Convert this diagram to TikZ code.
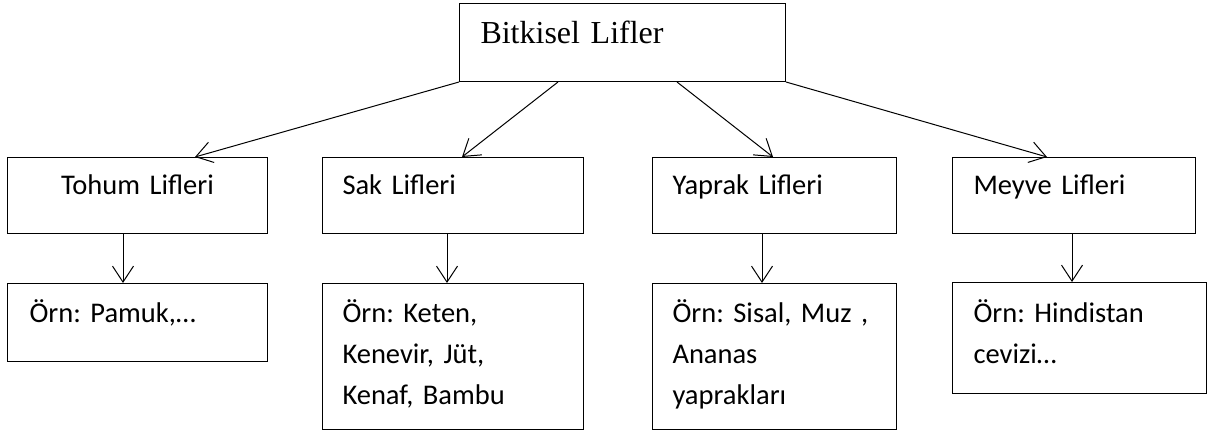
\documentclass[tikz,border=0pt]{standalone}
\usepackage{fontspec}
\setmainfont{Carlito}
\newfontfamily\titlefont{Liberation Serif}
\usetikzlibrary{arrows.meta,calc}

\tikzset{
  box/.style={draw=black, line width=1bp, anchor=north west,
    inner ysep=0pt, inner xsep=20bp, align=left,
    font=\frenchspacing\fontsize{28.5bp}{41bp}\selectfont},
  arr/.style={line width=1bp, -{Straight Barb[length=16bp,width=21bp]}}
}

\begin{document}
\begin{tikzpicture}[x=1bp,y=-1bp]
\useasboundingbox (0,0) rectangle (1211,434);

% root
\node[box, inner xsep=21bp, text width=284bp, text height=40bp, text depth=38bp,
      font=\titlefont\fontsize{32bp}{38bp}\selectfont] (top) at (459,3) {Bitkisel Lifler};

% fibre groups
\node[box, align=center, text width=220bp, text height=37.5bp, text depth=38.5bp] (tohum) at (7,157) {Tohum Lifleri};
\node[box, text width=221bp, text height=37.5bp, text depth=38.5bp] (sak) at (322,157) {Sak Lifleri};
\node[box, text width=204bp, text height=37.5bp, text depth=38.5bp] (yaprak) at (652,157) {Yaprak Lifleri};
\node[box, inner xsep=21bp, text width=201bp, text height=37.5bp, text depth=38.5bp] (meyve) at (952,157) {Meyve Lifleri};

% examples
\node[box, inner xsep=22bp, text width=216bp, text height=39bp, text depth=39bp] (pamuk) at (7,283) {Örn: Pamuk,…};
\node[box, text width=221bp, text height=39bp, text depth=107bp] (keten) at (322,283) {Örn: Keten,\\Kenevir, Jüt,\\Kenaf, Bambu};
\node[box, text width=204bp, text height=39bp, text depth=107bp] (sisal) at (652,283) {Örn: Sisal, Muz ,\\Ananas\\yaprakları};
\node[box, inner xsep=21bp, text width=212bp, text height=40bp, text depth=71bp] (hindistan) at (952,282) {Örn: Hindistan\\cevizi…};

% root to groups
\draw[arr] (top.south west) -- ($(tohum.north west)+(188,0)$);
\draw[arr] ($(top.south west)+(99,0)$) -- ($(sak.north west)+(140,0)$);
\draw[arr] ($(top.south west)+(218,0)$) -- ($(yaprak.north west)+(121,0)$);
\draw[arr] (top.south east) -- ($(meyve.north west)+(95,0)$);

% groups to examples
\draw[arr] ($(tohum.south west)+(116,0)$) -- ($(pamuk.north west)+(116,0)$);
\draw[arr] ($(sak.south west)+(125,0)$) -- ($(keten.north west)+(125,0)$);
\draw[arr] ($(yaprak.south west)+(110,0)$) -- ($(sisal.north west)+(110,0)$);
\draw[arr] ($(meyve.south west)+(120,0)$) -- ($(hindistan.north west)+(120,0)$);
\end{tikzpicture}
\end{document}
